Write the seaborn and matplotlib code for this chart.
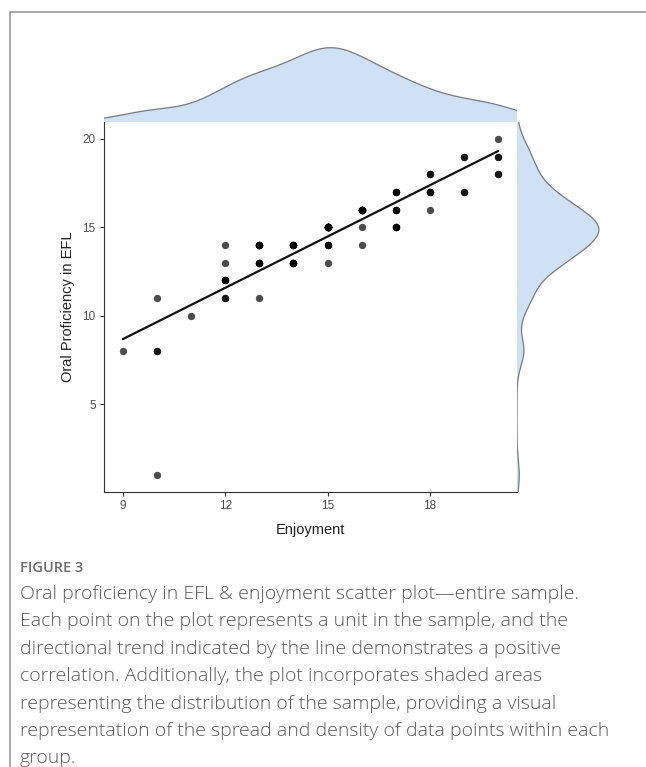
import numpy as np
import pandas as pd
import matplotlib
matplotlib.use('Agg')
import matplotlib.pyplot as plt
import seaborn as sns
from matplotlib.lines import Line2D

# Valores: cada ponto (enjoyment, proficiency) e quantas vezes aparece
enjoyment   = [9, 10, 10, 10, 11, 12, 12, 12, 12, 13, 13, 13, 14, 14, 15, 15, 15, 16, 16, 16, 17, 17, 17, 18, 18, 18, 19, 19, 20, 20, 20]
proficiency = [8,  8, 11,  1, 10, 14, 13, 12, 11, 14, 13, 11, 14, 13, 15, 14, 13, 16, 15, 14, 17, 16, 15, 18, 17, 16, 19, 17, 20, 19, 18]
counts      = [1,  2,  1,  1,  1,  1,  1,  4,  2,  6,  4,  1,  5,  5, 16,  3,  1, 10,  1,  1,  3,  3,  4,  2,  3,  1,  2,  2,  1,  2,  2]

x_ticks = [9, 12, 15, 18]
y_ticks = [5, 10, 15, 20]

caption_title = 'FIGURE 3'
caption_lines = [
    'Oral proficiency in EFL & enjoyment scatter plot\u2014entire sample.',
    'Each point on the plot represents a unit in the sample, and the',
    'directional trend indicated by the line demonstrates a positive',
    'correlation. Additionally, the plot incorporates shaded areas',
    'representing the distribution of the sample, providing a visual',
    'representation of the spread and density of data points within each',
    'group.',
]

df = pd.DataFrame({
    'Enjoyment': np.repeat(enjoyment, counts),
    'Oral Proficiency in EFL': np.repeat(proficiency, counts),
})


def nrd0(v):
    # largura de banda igual à do R (bw.nrd0), convertida para o fator do scipy
    v = np.asarray(v, dtype=float)
    sd = v.std(ddof=1)
    iqr = np.subtract(*np.percentile(v, [75, 25]))
    bw = 0.9 * min(sd, iqr / 1.34) * len(v) ** (-0.2)
    return bw / sd


sns.set_style('white')
plt.rcParams['font.family'] = ['Liberation Sans', 'DejaVu Sans']

W, H = 646, 767
fig = plt.figure(figsize=(W / 100, H / 100), dpi=100)

def box(x0, y0, x1, y1):
    return [x0 / W, 1 - y1 / H, (x1 - x0) / W, (y1 - y0) / H]

ax = fig.add_axes(box(104, 122, 517, 492))
ax_top = fig.add_axes(box(104, 44, 517, 122), sharex=ax)
ax_right = fig.add_axes(box(517, 122, 603, 492), sharey=ax)

# Dispersão + reta de regressão
sns.scatterplot(data=df, x='Enjoyment', y='Oral Proficiency in EFL', ax=ax,
                color='black', alpha=0.7, s=28, linewidth=0)
sns.regplot(data=df, x='Enjoyment', y='Oral Proficiency in EFL', ax=ax,
            scatter=False, ci=None, color='#111111', line_kws={'linewidth': 1.6})

ax.set_xlim(8.45, 20.55)
ax.set_ylim(0.05, 20.95)
ax.set_xticks(x_ticks)
ax.set_yticks(y_ticks)
for side in ['top', 'right']:
    ax.spines[side].set_visible(False)
for side in ['left', 'bottom']:
    ax.spines[side].set_color('#333333')
    ax.spines[side].set_linewidth(0.8)
ax.tick_params(axis='both', length=3, width=0.8, color='#333333',
               labelsize=8.5, labelcolor='#4d4d4d', pad=3, bottom=True, left=True)
ax.set_xlabel('Enjoyment', fontsize=10.5, color='#222222', labelpad=8)
ax.set_ylabel('Oral Proficiency in EFL', fontsize=10.5, color='#222222', labelpad=5)

# Densidades marginais
fill_col = '#d0e1f6'
edge_col = '#7a7a7a'
bw_x = nrd0(df['Enjoyment'])
bw_y = nrd0(df['Oral Proficiency in EFL'])

sns.kdeplot(x=df['Enjoyment'], ax=ax_top, fill=True, bw_method=bw_x,
            facecolor=fill_col, edgecolor='none', alpha=1)
sns.kdeplot(x=df['Enjoyment'], ax=ax_top, bw_method=bw_x,
            color=edge_col, linewidth=0.9)
ax_top.set_ylim(bottom=0)
ax_top.axis('off')

sns.kdeplot(y=df['Oral Proficiency in EFL'], ax=ax_right, fill=True, bw_method=bw_y,
            facecolor=fill_col, edgecolor='none', alpha=1)
sns.kdeplot(y=df['Oral Proficiency in EFL'], ax=ax_right, bw_method=bw_y,
            color=edge_col, linewidth=0.9)
ax_right.set_xlim(left=0)
ax_right.axis('off')

# Moldura da página
fig.add_artist(Line2D([10 / W, 1], [1 - 12 / H, 1 - 12 / H], color='#9a9a9a', linewidth=1.2))
fig.add_artist(Line2D([10 / W, 10 / W], [0, 1 - 12 / H], color='#9a9a9a', linewidth=1.2))

# Legenda da figura
fig.text(20 / W, 1 - 568 / H, caption_title, fontsize=10.5, color='#6b6b6b',
         family=['Open Sans', 'DejaVu Sans'], weight='semibold', va='center')
for i, line in enumerate(caption_lines):
    fig.text(20 / W, 1 - (594 + i * 27.4) / H, line, fontsize=14, color='#5a5a5a',
             family=['Open Sans', 'DejaVu Sans'], weight='light', va='center')

fig.savefig('out.png', dpi=100)
